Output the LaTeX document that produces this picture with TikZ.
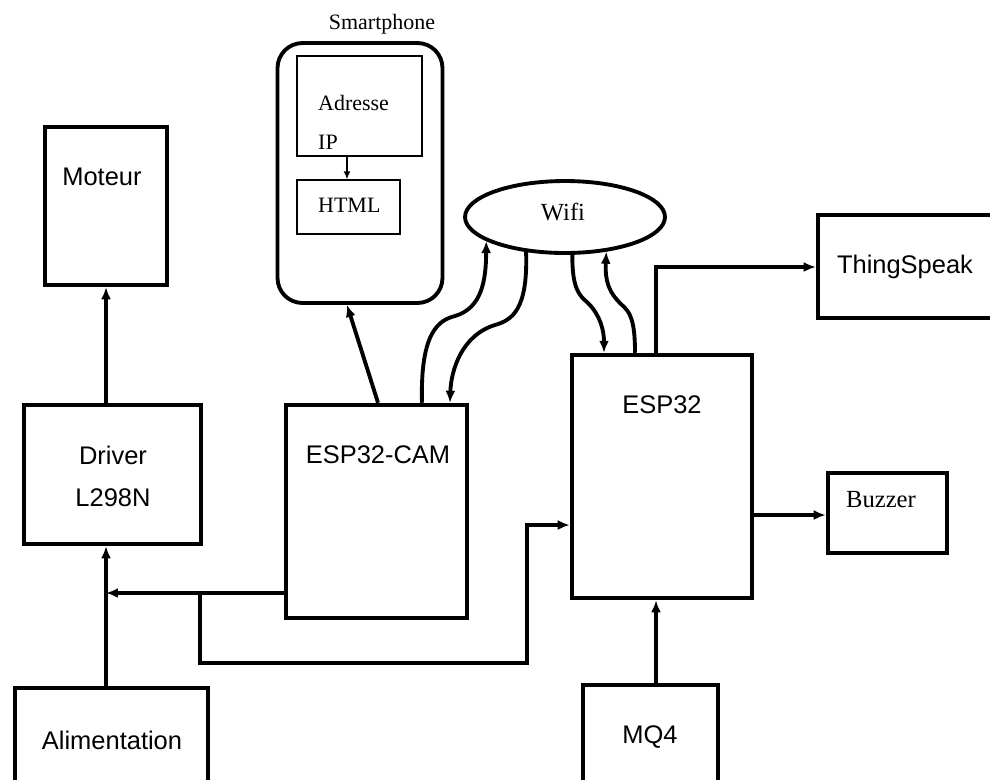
\documentclass[tikz,border=0pt]{standalone}
\usepackage{fontspec}
\setmainfont{Liberation Serif}
\setsansfont{Liberation Sans}
\usetikzlibrary{arrows.meta,shapes.geometric}

\begin{document}
\begin{tikzpicture}[x=0.02cm,y=-0.02cm,
    box/.style={draw,line width=2.6pt,inner sep=0pt},
    thinbox/.style={draw,line width=0.8pt,inner sep=0pt},
    lbl/.style={font=\sffamily\fontsize{14.5}{17}\selectfont},
    slbl/.style={font=\fontsize{14}{16}\selectfont},
    tlbl/.style={font=\fontsize{12.5}{15}\selectfont},
    link/.style={line width=2.2pt,-{Latex[length=0.24cm,width=0.2cm]}}]
    \useasboundingbox (0,0) rectangle (990,779);
    % left column
    \node[box,minimum width=2.44cm,minimum height=3.16cm] (moteur) at (106,206) {};
    \node[lbl] at (102,177) {Moteur};
    \node[box,minimum width=3.54cm,minimum height=2.78cm] (driver) at (112.5,474.5) {};
    \node[lbl] at (113,455) {Driver};
    \node[lbl] at (113,498) {L298N};
    \node[box,minimum width=3.86cm,minimum height=2.24cm] (alim) at (111.5,744) {};
    \node[lbl] at (112,740) {Alimentation};
    % smartphone
    \node[box,line width=2.2pt,rounded corners=0.5cm,minimum width=3.3cm,minimum height=5.2cm] (phone) at (360,173) {};
    \node[tlbl] at (382,24) {Smartphone};
    \node[thinbox,minimum width=2.5cm,minimum height=2.0cm] (ip) at (359.5,106) {};
    \node[tlbl,anchor=west] at (312,103) {Adresse};
    \node[tlbl,anchor=west] at (312,142) {IP};
    \node[thinbox,minimum width=2.06cm,minimum height=1.08cm] (html) at (348.5,207) {};
    \node[tlbl,anchor=west] at (312,205) {HTML};
    \draw[line width=0.8pt,-{Latex[length=0.16cm,width=0.14cm]}] (ip.south -| 347,0) -- (html.north -| 347,0);
    % middle and right
    \node[box,minimum width=3.62cm,minimum height=4.26cm] (cam) at (376.5,511.5) {};
    \node[lbl] at (378,455) {ESP32-CAM};
    \node[draw,ellipse,line width=2.2pt,inner sep=0pt,minimum width=4cm,minimum height=1.44cm] (wifi) at (565,217) {};
    \node[slbl] at (563,212) {Wifi};
    \node[box,minimum width=3.6cm,minimum height=4.86cm] (esp) at (662,476.5) {};
    \node[lbl] at (662,405) {ESP32};
    \node[box,minimum width=3.64cm,minimum height=2.06cm] (thing) at (909,266.5) {};
    \node[lbl] at (905,267) {ThingSpeak};
    \node[box,minimum width=2.38cm,minimum height=1.6cm] (buzzer) at (887.5,513) {};
    \node[slbl] at (881,500) {Buzzer};
    \node[box,minimum width=2.7cm,minimum height=2.3cm] (mq) at (650.5,742.5) {};
    \node[lbl] at (650,737) {MQ4};
    \coordinate (j1) at (200,593);
    % connectors
    \draw[link] (moteur.south |- driver.north) -- (moteur.south);
    \draw[link] (moteur.south |- alim.north) -- (moteur.south |- driver.south);
    \draw[link] (cam.west |- j1) -- (moteur.south |- j1);
    \draw[link] (j1) -- (200,663) -- (527,663) -- (527,525) -- (esp.west |- 0,525);
    \draw[link] (cam.north -| 378,0) -- (phone.south -| 347,0);
    \draw[link] (esp.north -| 656,0) -- (656,267) -- (thing.west |- 0,267);
    \draw[link] (esp.east |- 0,515) -- (buzzer.west |- 0,515);
    \draw[link] (mq.north -| 656,0) -- (esp.south -| 656,0);
    % wifi links
    \draw[link] (cam.north -| 422,0) .. controls (420,330) and (440,320) .. (455,316)
        .. controls (482,308) and (486,280) .. (wifi.197);
    \draw[link] (wifi.222) .. controls (528,310) and (512,320) .. (495,325)
        .. controls (462,335) and (451,370) .. (cam.north -| 450,0);
    \draw[link] (wifi.281) .. controls (572,290) and (580,296) .. (588,303)
        .. controls (600,315) and (604,330) .. (esp.north -| 604,0);
    \draw[link] (esp.north -| 635,0) .. controls (635,320) and (630,312) .. (622,305)
        .. controls (608,292) and (605,280) .. (wifi.320);
\end{tikzpicture}
\end{document}
